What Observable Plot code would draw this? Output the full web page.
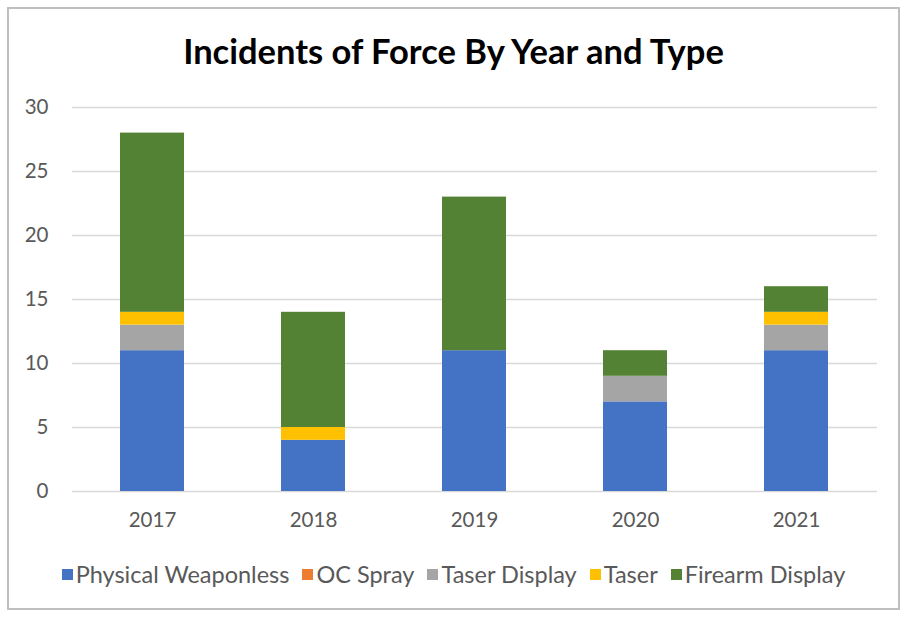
<!DOCTYPE html>
<html>
<head>
<meta charset="utf-8">
<script src="https://cdn.jsdelivr.net/npm/d3@7"></script>
<script src="https://cdn.jsdelivr.net/npm/@observablehq/plot@0.6"></script>
<style>
  html, body { margin: 0; padding: 0; background: #fff; }
  #wrap { position: relative; width: 907px; height: 619px; font-family: Lato, "Open Sans", sans-serif; }
  #frame { position: absolute; left: 7px; top: 7px; width: 889px; height: 599px; border: 2px solid #bfbfbf; box-sizing: content-box; }
  #title { position: absolute; left: 0; top: 0; width: 907px; height: 80px; text-align: center; line-height: 102px; font-size: 34.5px; font-weight: bold; color: #000; }
  #chart { position: absolute; left: 0; top: 80px; }
  #legend { position: absolute; left: 0; top: 560px; width: 907px; display: flex; justify-content: center; gap: 13px; font-size: 23.5px; color: #595959; }
  .item { display: flex; align-items: center; gap: 3px; }
  .sw { width: 11px; height: 11px; display: inline-block; }
</style>
</head>
<body>
<div id="wrap">
  <div id="frame"></div>
  <div id="title">Incidents of Force By Year and Type</div>
  <div id="chart"></div>
  <div id="legend"></div>
</div>
<script>
const years = ["2017", "2018", "2019", "2020", "2021"];
const types = ["Physical Weaponless", "OC Spray", "Taser Display", "Taser", "Firearm Display"];
const colors = ["#4472C4", "#ED7D31", "#A5A5A5", "#FFC000", "#548235"];
const physicalWeaponless = [11, 4, 11, 7, 11];
const ocSpray = [0, 0, 0, 0, 0];
const taserDisplay = [2, 0, 0, 2, 2];
const taser = [1, 1, 0, 0, 1];
const firearmDisplay = [14, 9, 12, 2, 2];
const yTicks = [0, 5, 10, 15, 20, 25, 30];

const series = [physicalWeaponless, ocSpray, taserDisplay, taser, firearmDisplay];
const data = [];
years.forEach((yr, i) => {
  types.forEach((t, j) => data.push({ year: yr, type: t, value: series[j][i] }));
});

const plot = Plot.plot({
  width: 907,
  height: 470,
  marginTop: 27,
  marginBottom: 59,
  marginLeft: 72,
  marginRight: 30,
  style: { fontFamily: "Lato, 'Open Sans', sans-serif", fontSize: "20.5px", color: "#595959", background: "transparent" },
  x: { domain: years, paddingInner: 0.6, paddingOuter: 0.3, label: null, tickSize: 0, tickPadding: 21 },
  y: { domain: [0, 30], ticks: yTicks, label: null, tickSize: 0, tickPadding: 24 },
  color: { domain: types, range: colors },
  marks: [
    Plot.ruleY(yTicks, { stroke: "#d9d9d9", strokeWidth: 1.5 }),
    Plot.barY(data, { x: "year", y: "value", fill: "type", order: types })
  ]
});
document.getElementById("chart").appendChild(plot);

const legend = document.getElementById("legend");
types.forEach((t, j) => {
  const it = document.createElement("div");
  it.className = "item";
  const sw = document.createElement("span");
  sw.className = "sw";
  sw.style.background = colors[j];
  const tx = document.createElement("span");
  tx.textContent = t;
  it.appendChild(sw);
  it.appendChild(tx);
  legend.appendChild(it);
});
</script>
</body>
</html>
